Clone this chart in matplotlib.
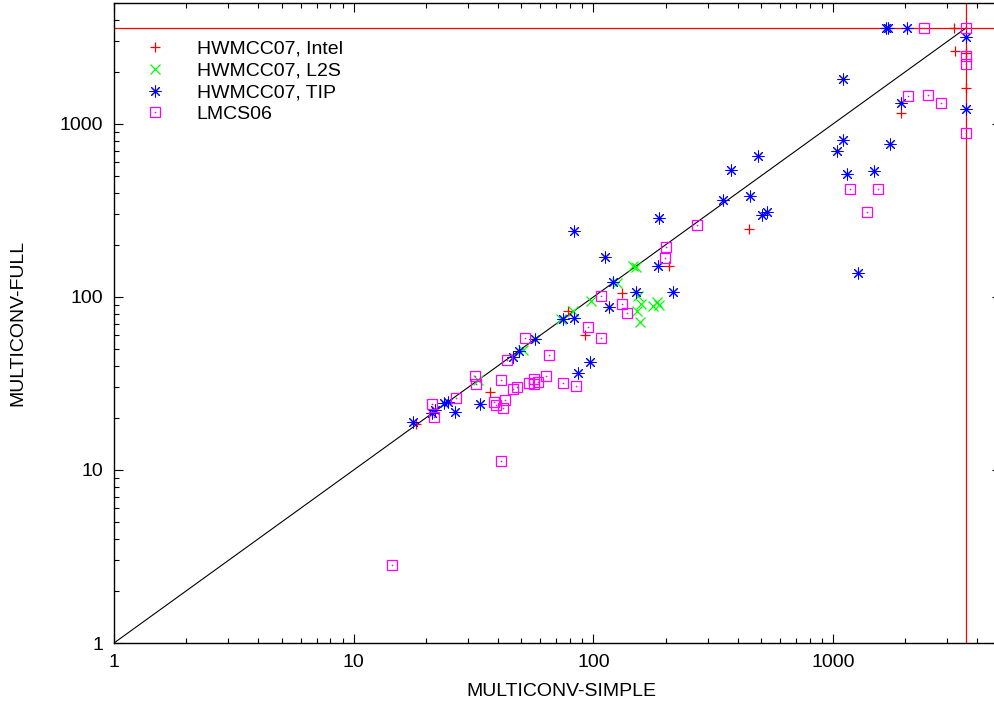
import matplotlib
matplotlib.use("Agg")
import matplotlib.pyplot as plt
from matplotlib.lines import Line2D

plt.rcParams['font.family'] = ['Liberation Sans', 'DejaVu Sans']

TIMEOUT = 3600
AX_MIN, AX_MAX = 1, 5000

intel_x = [18.2, 37, 78, 92.5, 132, 206, 446, 1914, 3226, 3204, 3600, 3600]
intel_y = [18.5, 28.4, 83, 60, 106, 151, 246, 1162, 2654, 3600, 2564, 1622]

l2s_x = [33, 51, 73, 82, 98, 125, 146, 150, 154, 158, 152, 157, 178, 184, 187]
l2s_y = [33, 49.5, 75, 83, 95, 120, 150, 148, 101, 91, 83, 72, 89, 94, 90]

tip_x = [17.6, 21.2, 21.8, 23.7, 24.8, 26.5, 33.6, 46, 49, 57, 75, 83, 86, 97,
         83.2, 112, 116, 121, 151, 186, 187, 215, 346, 374, 449, 486, 504, 530,
         1035, 1097, 1097, 1140, 1274, 1477, 1733, 1914, 1660, 1690, 2043, 3600, 3600]
tip_y = [19.0, 21.3, 22.2, 24.3, 24.8, 21.7, 24.1, 45, 49, 57, 75, 76, 36.2, 42,
         242, 171, 88, 122, 107, 151, 285, 107, 364, 542, 384, 656, 297, 310,
         698, 808, 1813, 514, 138, 533, 763, 1328, 3600, 3600, 3600, 3197, 1217]

lmcs_x = [14.4, 21.2, 21.6, 26.7, 32, 32.4, 38.5, 39.3, 41.8, 42.8, 41, 41.2,
          43.5, 46, 48, 52, 54, 56.5, 56.5, 58.6, 63.5, 65, 74.5, 85, 95, 108,
          108, 132, 138, 199, 200, 270, 1177, 1380, 1539, 2047, 2497, 2820,
          2394, 3600, 3600, 3600, 3600]
lmcs_y = [2.84, 24.1, 20.3, 26, 35, 31.3, 24.6, 23.8, 22.7, 25.4, 33, 11.3,
          43, 29.4, 30.3, 58, 31.7, 33.5, 31.3, 32.4, 35.1, 46, 31.7, 30.7, 67,
          101, 58, 91, 81, 169, 195, 261, 421, 311, 421, 1458, 1471, 1318,
          3600, 3600, 2483, 2223, 891]

labels = ["HWMCC07, Intel", "HWMCC07, L2S", "HWMCC07, TIP", "LMCS06"]

fig = plt.figure(figsize=(9.95, 7.08), dpi=100)
W, H = 995, 708
left, right, bottom, top = 114, 1000.6, 643, 3
ax = fig.add_axes([left / W, (H - bottom) / H, (right - left) / W, (bottom - top) / H])
ax.set_xscale('log')
ax.set_yscale('log')
ax.set_xlim(AX_MIN, AX_MAX)
ax.set_ylim(AX_MIN, AX_MAX)

ms = 7.5
ms_star = 8.5
lw = 0.9
lw_star = 0.75
RED, GREEN, BLUE, MAG = '#ff0000', '#00ff00', '#0000ff', '#ff00ff'
ax.plot(intel_x, intel_y, linestyle='none', marker='+', color=RED,
        markersize=ms, markeredgewidth=lw, zorder=3)
ax.plot(l2s_x, l2s_y, linestyle='none', marker='x', color=GREEN,
        markersize=ms * 0.95, markeredgewidth=lw, zorder=3)
ax.plot(tip_x, tip_y, linestyle='none', marker=(8, 2, 0), color=BLUE,
        markersize=ms_star, markeredgewidth=lw_star, zorder=3)
ax.plot(lmcs_x, lmcs_y, linestyle='none', marker='s', markerfacecolor='none',
        markeredgecolor=MAG, markersize=ms, markeredgewidth=lw, zorder=3)
ax.plot(lmcs_x, lmcs_y, linestyle='none', marker='o', color=MAG,
        markersize=1.2, markeredgewidth=0, zorder=3)

ax.plot([AX_MIN, TIMEOUT], [AX_MIN, TIMEOUT], color='black', linewidth=0.8, zorder=2)
ax.axhline(TIMEOUT, color=RED, linewidth=0.9, zorder=2)
ax.axvline(TIMEOUT, color=RED, linewidth=0.9, zorder=2)

for s in ax.spines.values():
    s.set_linewidth(1.0)
ax.tick_params(which='both', direction='in', top=True, right=True,
               labelsize=14, width=0.8)
ax.tick_params(which='major', length=6.5, pad=8)
ax.tick_params(which='minor', length=3.5)
ticks = [1, 10, 100, 1000]
ax.set_xticks(ticks)
ax.set_xticklabels([str(t) for t in ticks])
ax.set_yticks(ticks)
ax.set_yticklabels([str(t) for t in ticks])

fig.text(561 / W, 1 - 691 / H, "MULTICONV-SIMPLE", fontsize=14, ha='center', va='center')
fig.text(18 / W, 1 - 323 / H, "MULTICONV-FULL", fontsize=14, ha='center', va='center',
         rotation=90)

handles = [
    Line2D([], [], linestyle='none', marker='+', color=RED, markersize=ms, markeredgewidth=lw),
    Line2D([], [], linestyle='none', marker='x', color=GREEN, markersize=ms, markeredgewidth=lw),
    Line2D([], [], linestyle='none', marker=(8, 2, 0), color=BLUE, markersize=ms_star,
           markeredgewidth=lw_star),
    (Line2D([], [], linestyle='none', marker='s', markerfacecolor='none', markeredgecolor=MAG,
            markersize=ms, markeredgewidth=lw),
     Line2D([], [], linestyle='none', marker='o', color=MAG, markersize=1.2, markeredgewidth=0)),
]
ax.legend(handles, labels, loc='upper left',
          bbox_to_anchor=((145 - left) / (right - left), (bottom - 40) / (bottom - top)),
          frameon=False, fontsize=14, handlelength=1.0, handletextpad=1.65,
          labelspacing=0.22, borderpad=0, borderaxespad=0)

fig.savefig("out.png", dpi=100)
